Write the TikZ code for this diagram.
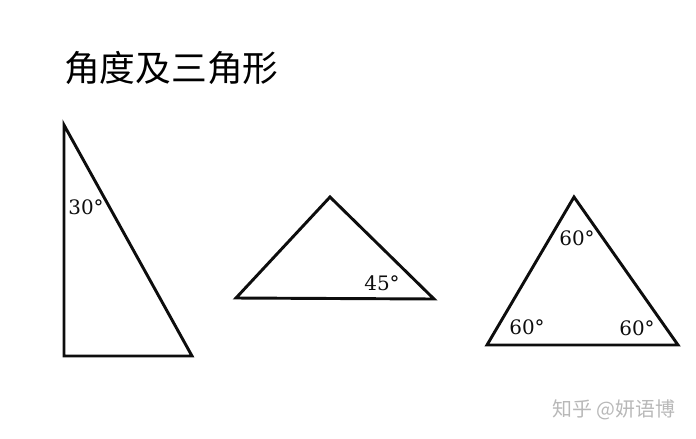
\documentclass[tikz,border=0pt]{standalone}
\usepackage{fontspec}
\setmainfont{DejaVu Serif}
\newfontfamily\cjk{Noto Sans CJK SC}
\usetikzlibrary{arrows}
\definecolor{qqqqqq}{rgb}{0.05,0.05,0.05}
\definecolor{bbbbbb}{rgb}{0.72,0.72,0.72}
\tikzset{
  side/.style={line width=2.5pt,color=qqqqqq,line cap=round,line join=miter},
  ang/.style={font=\fontsize{17}{17}\selectfont,color=qqqqqq,inner sep=0pt}
}
\begin{document}
\begin{tikzpicture}[x=0.03cm,y=-0.03cm]
			\useasboundingbox (0,0) rectangle (696,438);
			\node[anchor=west,inner sep=0pt] (title) at (64,68) {\cjk\fontsize{30.5}{30.5}\selectfont 角度及三角形};
			% right triangle
			\coordinate (a1) at (64,125);
			\coordinate (b1) at (64,356);
			\coordinate (c1) at (192,356);
			\draw [side] (a1)-- (b1)-- (c1)-- cycle;
			\node[ang] (t30) at (86,207) {30°};
			% obtuse one
			\coordinate (a2) at (236,298);
			\coordinate (b2) at (330,197);
			\coordinate (c2) at (434,299);
			\draw [side] (a2)-- (b2)-- (c2)-- cycle;
			\node[ang] (t45) at (382,283) {45°};
			% equilateral
			\coordinate (a3) at (487,345);
			\coordinate (b3) at (574,197);
			\coordinate (c3) at (678,345);
			\draw [side] (a3)-- (b3)-- (c3)-- cycle;
			\node[ang] (t60a) at (577,238) {60°};
			\node[ang] (t60b) at (527,327) {60°};
			\node[ang] (t60c) at (637,328) {60°};
			\node[color=bbbbbb,inner sep=0pt] (mark) at (614,410) {\cjk\fontsize{17}{17}\selectfont 知乎 @妍语博};
		\end{tikzpicture}
\end{document}
